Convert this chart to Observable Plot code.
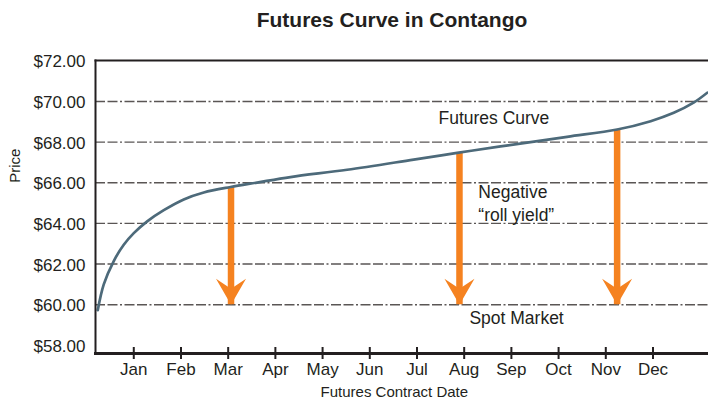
<!DOCTYPE html>
<html>
<head>
<meta charset="utf-8">
<script src="https://cdn.jsdelivr.net/npm/d3@7"></script>
<script src="https://cdn.jsdelivr.net/npm/@observablehq/plot@0.6"></script>
<style>
  html, body { margin: 0; padding: 0; background: #fff; }
  #title {
    width: 708px; box-sizing: border-box; height: 38px; line-height: 40px;
    padding-left: 76px; text-align: center;
    font-family: "Liberation Sans", Arial, sans-serif; font-weight: bold; font-size: 21px; color: #231f20;
  }
  #chart svg { display: block; }
</style>
</head>
<body>
<div id="title">Futures Curve in Contango</div>
<div id="chart"></div>
<script>
// Month tick positions and labels
const monthPos = [1, 2, 3, 4, 5, 6, 7, 8, 9, 10, 11, 12];
const monthLabels = ["Jan", "Feb", "Mar", "Apr", "May", "Jun", "Jul", "Aug", "Sep", "Oct", "Nov", "Dec"];

// Price ticks and dashed grid levels
const priceTicks = [58, 60, 62, 64, 66, 68, 70, 72];
const gridLevels = [60, 62, 64, 66, 68, 70];

// Futures curve (x in month units)
const curveX = [0.237, 0.364, 0.576, 0.788, 1.0, 1.284, 1.636, 2.059, 2.483, 3.049, 3.614, 4.32, 5.52, 6.93, 7.85, 8.77, 10.18, 11.24, 11.95, 12.44, 12.86, 13.15];
const curvePrice = [59.73, 61.0, 62.15, 62.95, 63.52, 64.1, 64.65, 65.18, 65.52, 65.79, 66.01, 66.28, 66.64, 67.14, 67.47, 67.79, 68.26, 68.62, 69.03, 69.44, 69.94, 70.43];

// Roll-yield arrows
const arrowX = [3.06, 7.90, 11.24];
const arrowTop = [65.79, 67.49, 68.62];
const spotPrice = 60;

// Annotations
const noteText = ["Futures Curve", "Negative", "\u201Croll yield\u201D", "Spot Market"];
const noteX = [7.455, 8.30, 8.30, 8.11];
const noteY = [69.16, 65.52, 64.39, 59.32];

const curve = curveX.map((x, i) => ({x, y: curvePrice[i]}));
const arrows = arrowX.map((x, i) => ({x, top: arrowTop[i], spot: spotPrice}));
const notes = noteText.map((t, i) => ({t, x: noteX[i], y: noteY[i]}));
const months = monthPos.map((p, i) => ({p, label: monthLabels[i]}));

const ink = "#231f20";
const orange = "#f58220";

const arrowHead = {
  draw(ctx, size) {
    const r = Math.sqrt(size / Math.PI);
    ctx.moveTo(0, 0);
    ctx.lineTo(-r, -26 / 15 * r);
    ctx.lineTo(0, -16 / 15 * r);
    ctx.lineTo(r, -26 / 15 * r);
    ctx.closePath();
  }
};

const chart = Plot.plot({
  width: 708,
  height: 366,
  marginLeft: 95,
  marginRight: 0,
  marginTop: 22,
  marginBottom: 51,
  style: {fontFamily: "'Liberation Sans', Arial, sans-serif", color: ink, background: "#fff"},
  x: {domain: [0.189, 13.176]},
  y: {domain: [57.6, 72.015]},
  marks: [
    Plot.ruleY(gridLevels, {stroke: "#5a5655", strokeWidth: 1.4, strokeDasharray: "10,2.5,10,2.5,2,2.5"}),
    Plot.ruleX(arrows, {x: "x", y1: "top", y2: "spot", stroke: orange, strokeWidth: 6.5}),
    Plot.dot(arrows, {x: "x", y: "spot", r: 15, symbol: arrowHead, fill: orange, stroke: null}),
    Plot.line(curve, {x: "x", y: "y", curve: "catmull-rom", stroke: "#4d6a7a", strokeWidth: 2.7}),
    Plot.frame({anchor: "left", stroke: ink, strokeWidth: 2}),
    Plot.frame({anchor: "top", stroke: ink, strokeWidth: 2}),
    Plot.frame({anchor: "bottom", stroke: ink, strokeWidth: 3}),
    Plot.axisY({ticks: priceTicks, tickFormat: d => "$" + d.toFixed(2), tickSize: 0, tickPadding: 10, fontSize: 17, dy: 1, label: null, fill: ink}),
    Plot.axisX({ticks: monthPos, tickFormat: () => "", tickSize: 12, dy: -6, label: null, stroke: ink, strokeWidth: 2}),
    Plot.text(months, {x: "p", text: "label", frameAnchor: "bottom", dy: 21, fontSize: 17, fill: ink}),
    Plot.text(notes, {x: "x", y: "y", text: "t", textAnchor: "start", fontSize: 17.5, fill: ink}),
    Plot.text(["Price"], {frameAnchor: "left", y: [66.0], text: d => d, rotate: -90, dx: -80, fontSize: 15, fill: ink}),
    Plot.text(["Futures Contract Date"], {frameAnchor: "bottom", x: [6.52], text: d => d, dy: 43, fontSize: 15, fill: ink})
  ]
});
document.getElementById("chart").appendChild(chart);
</script>
</body>
</html>
